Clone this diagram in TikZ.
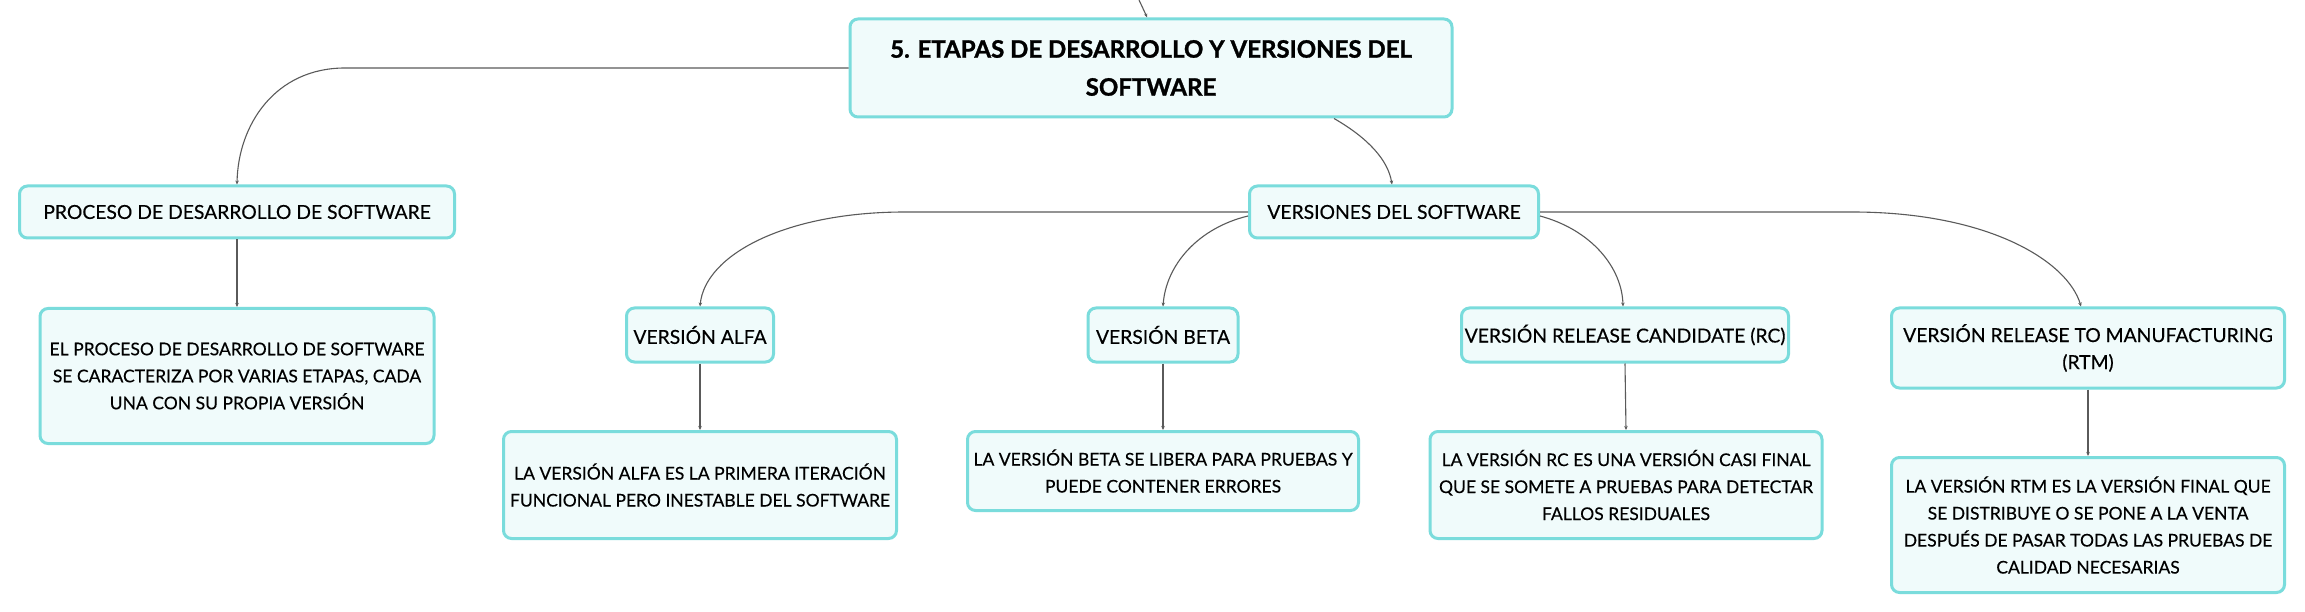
\documentclass[tikz,border=0pt]{standalone}
\usepackage{fontspec}
\setmainfont{Lato}[UprightFeatures={FakeBold=0.35},BoldFeatures={FakeBold=1.2}]
\usetikzlibrary{arrows.meta}
\definecolor{bordc}{HTML}{7ADCDC}
\definecolor{fillc}{HTML}{F0FBFB}
\definecolor{linec}{HTML}{5A5A5A}
\tikzset{
  box/.style={draw=bordc, fill=fillc, line width=3pt, rounded corners=8pt,
    align=center, inner sep=0pt, font=\fontsize{19.3}{27}\selectfont},
  descbox/.style={box, font=\fontsize{17.5}{27}\selectfont},
  titlebox/.style={box, font=\bfseries\fontsize{24}{38}\selectfont},
  conn/.style={draw=linec, line width=1.1pt, -{Stealth[length=4pt,width=3.5pt]}}
}
\begin{document}
\begin{tikzpicture}[x=1pt,y=-1pt]
\useasboundingbox[fill=white] (0,0) rectangle (2305,612);

\node[titlebox, minimum width=602, minimum height=98] (title) at (1151,68)
  {5. ETAPAS DE DESARROLLO Y VERSIONES DEL\\SOFTWARE};
\node[box, minimum width=435, minimum height=52] (proc) at (237,212)
  {PROCESO DE DESARROLLO DE SOFTWARE};
\node[descbox, minimum width=394, minimum height=135] (procd) at (237,376)
  {EL PROCESO DE DESARROLLO DE SOFTWARE\\SE CARACTERIZA POR VARIAS ETAPAS, CADA\\UNA CON SU PROPIA VERSIÓN};
\node[box, minimum width=289, minimum height=52] (vers) at (1394,212)
  {VERSIONES DEL SOFTWARE};
\node[box, minimum width=147, minimum height=54] (alfa) at (700,335)
  {VERSIÓN ALFA};
\node[box, minimum width=150, minimum height=54] (beta) at (1163,335)
  {VERSIÓN BETA};
\node[box, minimum width=327, minimum height=54] (rc) at (1625,335)
  {VERSIÓN RELEASE CANDIDATE (RC)};
\node[box, minimum width=393, minimum height=80] (rtm) at (2088,348)
  {VERSIÓN RELEASE TO MANUFACTURING\\(RTM)};
\node[descbox, minimum width=393, minimum height=107] (alfad) at (700,485)
  {LA VERSIÓN ALFA ES LA PRIMERA ITERACIÓN\\FUNCIONAL PERO INESTABLE DEL SOFTWARE};
\node[descbox, minimum width=391, minimum height=79] (betad) at (1163,471)
  {LA VERSIÓN BETA SE LIBERA PARA PRUEBAS Y\\PUEDE CONTENER ERRORES};
\node[descbox, minimum width=392, minimum height=107] (rcd) at (1626,485)
  {LA VERSIÓN RC ES UNA VERSIÓN CASI FINAL\\QUE SE SOMETE A PRUEBAS PARA DETECTAR\\FALLOS RESIDUALES};
\node[descbox, minimum width=393, minimum height=135] (rtmd) at (2088,525)
  {LA VERSIÓN RTM ES LA VERSIÓN FINAL QUE\\SE DISTRIBUYE O SE PONE A LA VENTA\\DESPUÉS DE PASAR TODAS LAS PRUEBAS DE\\CALIDAD NECESARIAS};

\coordinate (topin) at (1139,0);
\draw[conn] (topin) .. controls (1143,7) .. ([xshift=-4pt]title.north);
\draw[conn] (title.west) -- (345,68) .. controls (275,68) and (238,125) .. (proc.north);
\draw[conn] ([xshift=183pt]title.south) .. controls (1368,138) and (1388,160) .. ([xshift=-2pt]vers.north);
\draw[conn] (vers.west) -- (905,212) .. controls (785,212) and (705,255) .. (alfa.north);
\draw[conn] ([yshift=-4pt]vers.west) .. controls (1198,228) and (1166,265) .. (beta.north);
\draw[conn] ([yshift=-4pt]vers.east) .. controls (1592,230) and (1622,268) .. ([xshift=-2pt]rc.north);
\draw[conn] (vers.east) -- (1852,212) .. controls (1990,212) and (2068,262) .. ([xshift=-7pt]rtm.north);
\draw[conn] (proc.south) -- (procd.north);
\draw[conn] (alfa.south) -- (alfad.north);
\draw[conn] (beta.south) -- (betad.north);
\draw[conn] (rc.south) -- (rcd.north);
\draw[conn] (rtm.south) -- (rtmd.north);
\end{tikzpicture}
\end{document}
